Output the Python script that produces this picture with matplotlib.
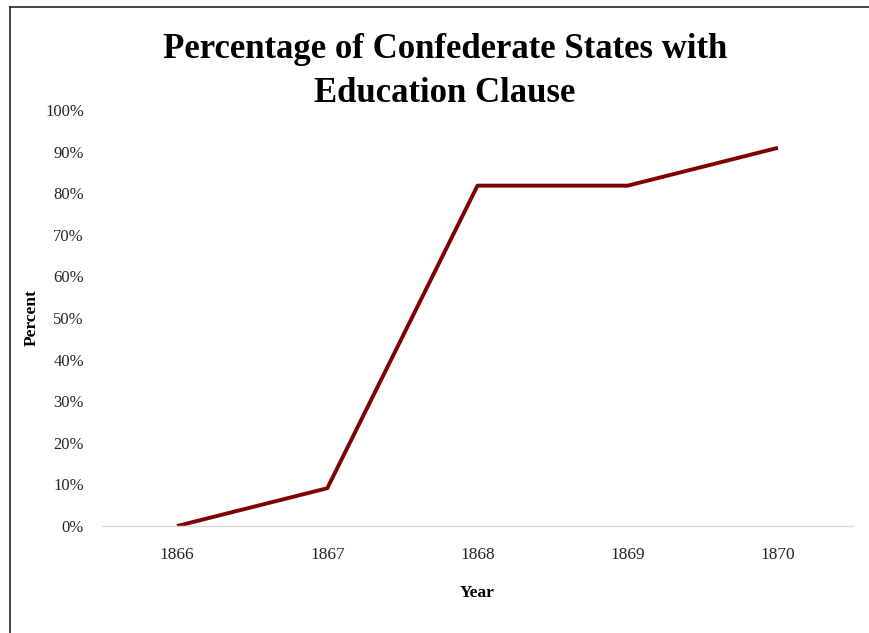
import matplotlib
matplotlib.use("Agg")
import matplotlib.pyplot as plt
from matplotlib.ticker import PercentFormatter
from matplotlib.lines import Line2D

years = ["1866", "1867", "1868", "1869", "1870"]
percent = [0.0, 9.09, 81.82, 81.82, 90.91]
yticks = [0, 10, 20, 30, 40, 50, 60, 70, 80, 90, 100]

serif = ["Liberation Serif", "DejaVu Serif"]

fig = plt.figure(figsize=(8.7, 6.33), dpi=100)
ax = fig.add_axes([0.1172, 0.169, 0.8633, 0.6572])

x = list(range(len(years)))
ax.plot(x, percent, color="#7f0000", linewidth=2.8, solid_capstyle="butt", solid_joinstyle="round")

ax.set_xlim(-0.5, len(years) - 0.5)
ax.set_ylim(0, 100)
ax.set_xticks(x)
ax.set_xticklabels(years, family=serif, fontsize=12.5)
ax.set_yticks(yticks)
ax.yaxis.set_major_formatter(PercentFormatter(100, decimals=0))
for lbl in ax.get_yticklabels():
    lbl.set_family(serif)
    lbl.set_fontsize(12)
ax.tick_params(axis="both", length=0, colors="#262626")
ax.tick_params(axis="x", pad=15)
ax.tick_params(axis="y", pad=13)

for s in ["top", "right", "left"]:
    ax.spines[s].set_visible(False)
ax.spines["bottom"].set_color("#d9d9d9")
ax.spines["bottom"].set_linewidth(1.0)

ax.set_xlabel("Year", family=serif, fontsize=12.5, fontweight="bold", labelpad=16)
fig.text(32/870, 1 - 318/633, "Percent", rotation=90, ha="center", va="center",
         family=serif, fontsize=12.5, fontweight="bold")

fig.text(445/870, 0.887, "Percentage of Confederate States with\nEducation Clause",
         ha="center", va="center", family=serif, fontsize=25, fontweight="bold",
         linespacing=1.42)

# figure border (top and left)
fig.add_artist(Line2D([10/870, 10/870], [0, 1 - 7/633], transform=fig.transFigure, color="#262626", linewidth=1.2))
fig.add_artist(Line2D([10/870, 1], [1 - 7/633, 1 - 7/633], transform=fig.transFigure, color="#262626", linewidth=1.2))

fig.savefig("out.png", dpi=100)
